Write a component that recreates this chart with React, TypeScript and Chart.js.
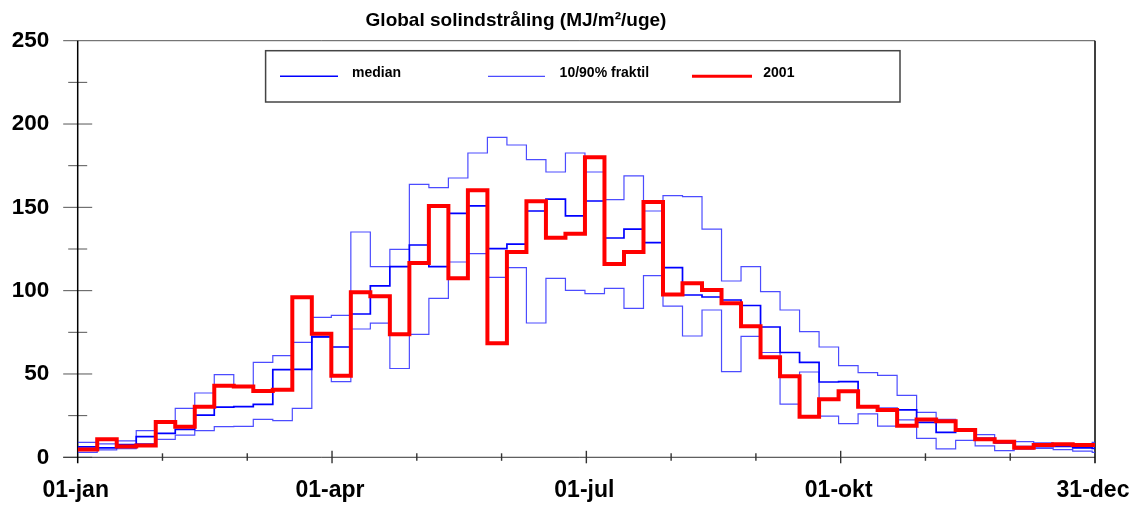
import React, { useEffect, useRef } from "react";
import { Chart, registerables } from "chart.js";

Chart.register(...registerables);

const TITLE = "Global solindstråling (MJ/m²/uge)";
const DAYS_IN_YEAR = 365;
const WEEKS = [
  1, 2, 3, 4, 5, 6, 7, 8, 9, 10, 11, 12, 13, 14, 15, 16, 17, 18, 19, 20, 21, 22, 23, 24, 25, 26,
  27, 28, 29, 30, 31, 32, 33, 34, 35, 36, 37, 38, 39, 40, 41, 42, 43, 44, 45, 46, 47, 48, 49, 50,
  51, 52, 53,
];
const P90 = [
  9, 8, 9.8, 16, 22, 29.4, 38.6, 49.6, 43, 57, 61, 69, 84, 85.2, 135.2, 114.4, 124.8, 163.8, 161.8,
  167.6, 182.6, 192, 187.4, 178.6, 171.2, 182.6, 171.2, 154.6, 168.9, 147.8, 157, 156.4, 136.9,
  105.8, 114.4, 99.4, 88.4, 75.4, 66.2, 55, 50.8, 49.2, 37.2, 26.9, 22.8, 17, 13.6, 9.7, 9.4, 8.6,
  7.4, 6.2, 8.9,
];
const MEDIAN = [
  6.2, 5.6, 7.6, 12.4, 14.4, 16.8, 25.3, 30.1, 30.4, 31.8, 52.6, 52.8, 72.4, 66.2, 86, 102.9, 114.4,
  127.4, 114.4, 146.4, 150.9, 125.2, 127.9, 147.8, 154.9, 144.9, 153.8, 131.6, 136.9, 128.8, 113.8,
  97.4, 96.2, 94.4, 91.1, 78.2, 62.9, 57, 45.2, 45.4, 30.6, 29.4, 28.4, 21, 15, 16, 11.4, 8.6, 6.4,
  6.4, 6.6, 5.7, 5.4,
];
const P10 = [
  3, 4.4, 5.2, 8.2, 10.8, 13.3, 16, 18.4, 18.5, 22.8, 22, 29.4, 72, 45.4, 77, 80.5, 53.3, 73.8, 95.4,
  117.2, 122.2, 108, 113.8, 80.6, 107.4, 100.2, 98.2, 101.4, 89.4, 109, 90.7, 72.8, 88.4, 51.4, 72.6,
  62.9, 31.9, 51.2, 24.7, 20.2, 26, 18.7, 22.4, 11.4, 5.1, 10.1, 6.8, 4, 4.9, 5.4, 4.6, 3.7, 2.9,
];
const Y2001 = [
  4.7, 10.9, 6.5, 7.1, 21.2, 18.3, 30.4, 42.9, 42.5, 39.8, 40.5, 96, 74.1, 48.9, 99.1, 96.6, 73.8,
  116.6, 150.8, 107.4, 160.2, 68.4, 123.2, 153.6, 131.8, 134.2, 180, 116, 123.2, 153.2, 97.7, 104.4,
  100.4, 92.4, 78.6, 60, 48.6, 24.4, 34.9, 39.6, 30.4, 28.4, 18.9, 22.7, 21.7, 16.4, 10.9, 9.4, 5.7,
  7.4, 7.9, 7.4, 7.4,
];
const Y_TICKS = [0, 50, 100, 150, 200, 250];
const X_TICK_LABELS = ["01-jan", "01-apr", "01-jul", "01-okt", "31-dec"];
const LEGEND_LABELS = ["median", "10/90% fraktil", "2001"];

const FONT = '"Liberation Sans", Arial, sans-serif';
const MEDIAN_COLOR = "#0000ff";
const FRAKTIL_COLOR = "rgba(45,45,255,0.85)";
const RED = "#ff0000";

function toPoints(vals: number[]) {
  const pts = WEEKS.map((w, i) => ({ x: (w - 1) * 7, y: vals[i] }));
  pts.push({ x: DAYS_IN_YEAR, y: vals[vals.length - 1] });
  return pts;
}

const framePlugin = {
  id: "frame",
  beforeDatasetsDraw(chart: any) {
    const { ctx, chartArea: a, scales } = chart;
    const xs = scales.x;
    const ys = scales.y;
    const line = (x1: number, y1: number, x2: number, y2: number) => {
      ctx.beginPath();
      ctx.moveTo(x1, y1);
      ctx.lineTo(x2, y2);
      ctx.stroke();
    };
    ctx.save();
    ctx.strokeStyle = "#555";
    ctx.lineWidth = 1;
    for (let i = 0; i < Y_TICKS.length; i++) {
      const py = ys.getPixelForValue(Y_TICKS[i]);
      if (i < Y_TICKS.length - 1) line(a.left - 14.5, py, a.left + 14.5, py);
      if (i > 0) {
        const mid = ys.getPixelForValue((Y_TICKS[i] + Y_TICKS[i - 1]) / 2);
        line(a.left - 9.5, mid, a.left + 9.5, mid);
      }
    }
    line(a.left - 14.5, a.top, a.right, a.top);
    ctx.strokeStyle = "#333";
    line(a.left - 14.5, a.bottom, a.right, a.bottom);
    ctx.lineWidth = 1.4;
    for (let m = 1; m < 12; m++) {
      const px = xs.getPixelForValue((m * DAYS_IN_YEAR) / 12);
      if (m % 3 === 0) line(px, a.bottom - 6.5, px, a.bottom + 6);
      else line(px, a.bottom - 4, px, a.bottom + 3.5);
    }
    ctx.strokeStyle = "#000";
    ctx.lineWidth = 1.5;
    line(a.left, a.top, a.left, a.bottom + 6);
    line(a.right, a.top, a.right, a.bottom + 6);
    ctx.restore();
  },
  afterDraw(chart: any) {
    const { ctx } = chart;
    ctx.save();
    ctx.fillStyle = "#000";
    ctx.font = `bold 19px ${FONT}`;
    ctx.textAlign = "center";
    ctx.textBaseline = "alphabetic";
    ctx.fillText(TITLE, 516, 26);
    ctx.strokeStyle = "#444";
    ctx.lineWidth = 1.5;
    ctx.strokeRect(265.6, 50.7, 900 - 265.6, 102 - 50.7);
    const entries = [
      { x1: 280, x2: 338, tx: 352, color: MEDIAN_COLOR, w: 1.6 },
      { x1: 488, x2: 545, tx: 559.6, color: FRAKTIL_COLOR, w: 1.2 },
      { x1: 692, x2: 752, tx: 763.3, color: RED, w: 3 },
    ];
    ctx.font = `bold 14px ${FONT}`;
    ctx.textAlign = "left";
    entries.forEach((e, i) => {
      ctx.strokeStyle = e.color;
      ctx.lineWidth = e.w;
      ctx.beginPath();
      ctx.moveTo(e.x1, 76.3);
      ctx.lineTo(e.x2, 76.3);
      ctx.stroke();
      ctx.fillStyle = "#000";
      ctx.fillText(LEGEND_LABELS[i], e.tx, 77.3);
    });
    ctx.restore();
  },
};

export default function App() {
  const ref = useRef<HTMLCanvasElement | null>(null);
  useEffect(() => {
    if (!ref.current) return;
    const common = { pointRadius: 0, stepped: "before" as const, fill: false, tension: 0 };
    const chart = new Chart(ref.current, {
      type: "line",
      data: {
        datasets: [
          { label: "2001", data: toPoints(Y2001), borderColor: RED, borderWidth: 4, ...common },
          { label: "median", data: toPoints(MEDIAN), borderColor: MEDIAN_COLOR, borderWidth: 1.7, ...common },
          { label: "90%", data: toPoints(P90), borderColor: FRAKTIL_COLOR, borderWidth: 1.2, ...common },
          { label: "10%", data: toPoints(P10), borderColor: FRAKTIL_COLOR, borderWidth: 1.2, ...common },
        ],
      },
      options: {
        responsive: false,
        animation: false,
        devicePixelRatio: 1,
        layout: { padding: { left: 0, right: 45, top: 40.7, bottom: 0 } },
        plugins: { legend: { display: false }, tooltip: { enabled: false }, title: { display: false } },
        events: [],
        scales: {
          x: {
            type: "linear",
            min: 0,
            max: DAYS_IN_YEAR,
            afterBuildTicks: (s: any) => {
              s.ticks = X_TICK_LABELS.map((_, i) => ({ value: (i * 3 * DAYS_IN_YEAR) / 12 }));
            },
            afterFit: (s: any) => {
              s.height = 50.7;
              s.paddingLeft = 0;
              s.paddingRight = 0;
            },
            grid: { display: false, drawTicks: false },
            border: { display: false },
            ticks: {
              autoSkip: false,
              maxRotation: 0,
              minRotation: 0,
              padding: 19.4,
              labelOffset: -2,
              color: "#000",
              font: { family: FONT, size: 23, weight: "bold" },
              callback: (_v: any, i: number) => X_TICK_LABELS[i],
            },
          },
          y: {
            type: "linear",
            min: 0,
            max: 250,
            afterBuildTicks: (s: any) => {
              s.ticks = Y_TICKS.map((v) => ({ value: v }));
            },
            afterFit: (s: any) => {
              s.width = 77.7;
              s.paddingTop = 0;
              s.paddingBottom = 0;
            },
            grid: { display: false, drawTicks: false },
            border: { display: false },
            ticks: {
              padding: 28.4,
              color: "#000",
              font: { family: FONT, size: 22.5, weight: "bold" },
            },
          },
        },
      },
      plugins: [framePlugin],
    } as any);
    return () => chart.destroy();
  }, []);
  return (
    <div style={{ position: "absolute", left: 0, top: 0, width: 1140, height: 508, background: "#fff" }}>
      <canvas ref={ref} width={1140} height={508} style={{ display: "block" }} />
    </div>
  );
}
